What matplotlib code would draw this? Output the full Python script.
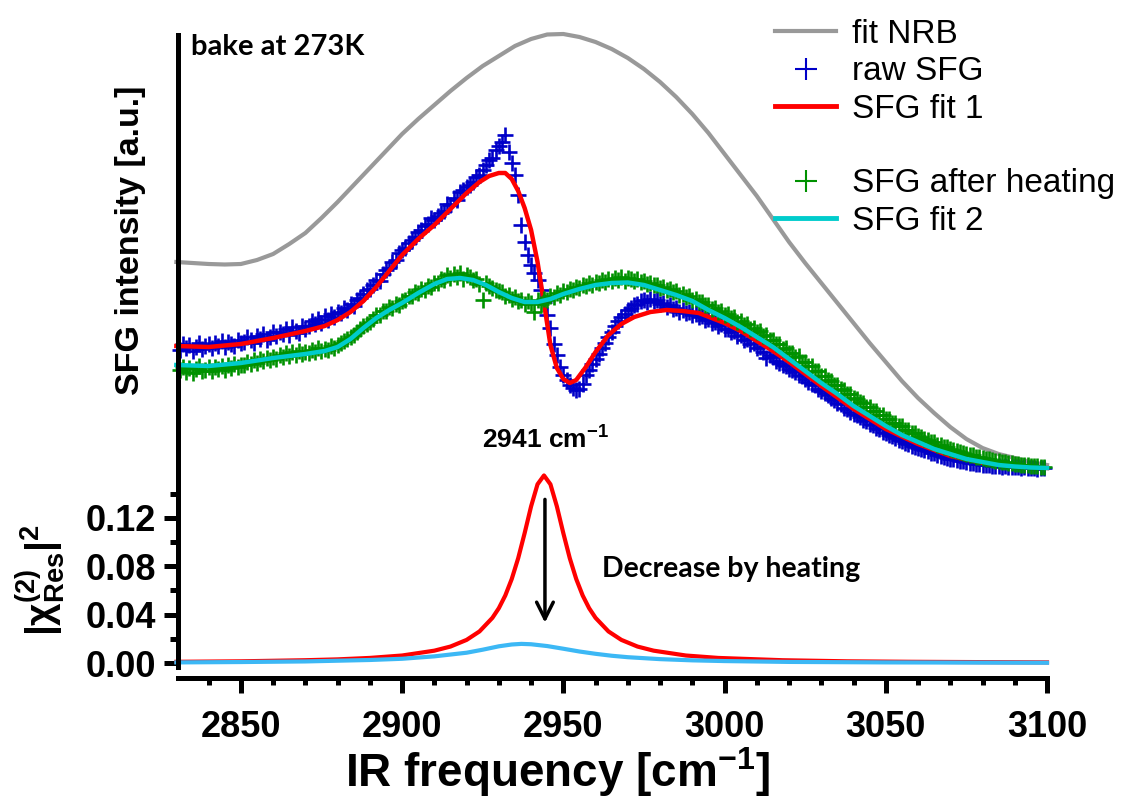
import numpy as np
import matplotlib
matplotlib.use('Agg')
import matplotlib.pyplot as plt
from matplotlib.lines import Line2D
from matplotlib.ticker import MultipleLocator

plt.rcParams['font.family'] = 'Liberation Sans'
plt.rcParams['mathtext.fontset'] = 'custom'
plt.rcParams['mathtext.rm'] = 'Liberation Sans'
plt.rcParams['mathtext.bf'] = 'Liberation Sans:bold'
plt.rcParams['mathtext.it'] = 'Liberation Sans:italic'

#%% data (intensity in a.u.)

nrb_x = [2830, 2835, 2840, 2845, 2850, 2855, 2860, 2865, 2870, 2875, 2880, 2885,
         2890, 2895, 2900, 2905, 2910, 2915, 2920, 2925, 2930, 2935, 2940, 2945,
         2950, 2955, 2960, 2965, 2970, 2975, 2980, 2985, 2990, 2995, 3000, 3005,
         3010, 3015, 3020, 3025, 3030, 3035, 3040, 3045, 3050, 3055, 3060, 3065,
         3070, 3075, 3080, 3085, 3090, 3095, 3100]
nrb_y = [2.08, 2.07, 2.06, 2.055, 2.06, 2.10, 2.16, 2.26, 2.37, 2.52, 2.68, 2.85,
         3.02, 3.19, 3.36, 3.51, 3.65, 3.79, 3.92, 4.04, 4.14, 4.24, 4.31, 4.355,
         4.36, 4.33, 4.28, 4.21, 4.12, 4.01, 3.88, 3.73, 3.56, 3.37, 3.16, 2.95,
         2.74, 2.51, 2.28, 2.07, 1.87, 1.67, 1.47, 1.27, 1.08, 0.89, 0.72, 0.57,
         0.43, 0.31, 0.22, 0.16, 0.12, 0.08, 0.05]

fit1_x = [2830, 2840, 2850, 2860, 2870, 2876, 2880, 2884, 2888, 2892, 2896, 2900,
          2905, 2910, 2915, 2920, 2924, 2927, 2930, 2932, 2934, 2936, 2938, 2940,
          2942, 2944, 2946, 2948, 2950, 2952, 2954, 2957, 2960, 2964, 2968, 2972,
          2977, 2982, 2987, 2992, 2996, 3000, 3005, 3010, 3015, 3020, 3030, 3040,
          3050, 3060, 3070, 3080, 3090, 3100]
fit1_y = [1.24, 1.23, 1.26, 1.32, 1.39, 1.44, 1.50, 1.58, 1.69, 1.83, 1.99, 2.15,
          2.31, 2.45, 2.61, 2.77, 2.88, 2.94, 2.97, 2.97, 2.91, 2.79, 2.62, 2.40,
          2.08, 1.67, 1.25, 1.02, 0.91, 0.87, 0.90, 1.03, 1.18, 1.35, 1.46, 1.53,
          1.58, 1.60, 1.59, 1.57, 1.52, 1.47, 1.39, 1.29, 1.19, 1.08, 0.84, 0.61,
          0.41, 0.26, 0.14, 0.07, 0.035, 0.02]

fit2_x = [2830, 2840, 2850, 2860, 2870, 2876, 2880, 2884, 2888, 2892, 2896, 2900,
          2905, 2910, 2914, 2918, 2922, 2926, 2930, 2934, 2938, 2942, 2946, 2950,
          2955, 2960, 2965, 2970, 2975, 2980, 2985, 2990, 2995, 3000, 3005, 3010,
          3015, 3020, 3025, 3030, 3035, 3040, 3045, 3050, 3055, 3060, 3065, 3070,
          3075, 3080, 3085, 3090, 3095, 3100]
fit2_y = [1.05, 1.04, 1.07, 1.12, 1.16, 1.19, 1.23, 1.31, 1.42, 1.52, 1.60, 1.67,
          1.77, 1.86, 1.91, 1.92, 1.90, 1.85, 1.78, 1.72, 1.68, 1.68, 1.71, 1.76,
          1.81, 1.85, 1.87, 1.875, 1.85, 1.80, 1.75, 1.69, 1.60, 1.52, 1.43, 1.33,
          1.23, 1.11, 0.99, 0.87, 0.76, 0.64, 0.54, 0.44, 0.35, 0.28, 0.21, 0.16,
          0.11, 0.08, 0.05, 0.035, 0.025, 0.02]

# raw spectra, one point per cm-1 from 2831 to 3099
raw_x = np.arange(2831, 3100)
raw_sfg = [1.20, 1.26, 1.22, 1.25, 1.19, 1.23, 1.27, 1.21, 1.24, 1.26,
           1.22, 1.27, 1.24, 1.29, 1.23, 1.28, 1.26, 1.24, 1.30, 1.27,
           1.28, 1.33, 1.30, 1.27, 1.34, 1.31, 1.36, 1.30, 1.33, 1.38,
           1.34, 1.38, 1.36, 1.41, 1.35, 1.43, 1.39, 1.37, 1.44, 1.41,
           1.44, 1.49, 1.46, 1.51, 1.47, 1.54, 1.50, 1.56, 1.53, 1.58,
           1.57, 1.62, 1.60, 1.66, 1.64, 1.70, 1.72, 1.76, 1.80, 1.81,
           1.85, 1.90, 1.89, 1.96, 2.00, 2.02, 2.08, 2.10, 2.17, 2.20,
           2.22, 2.27, 2.30, 2.33, 2.38, 2.40, 2.44, 2.46, 2.52, 2.50,
           2.54, 2.57, 2.59, 2.66, 2.65, 2.72, 2.70, 2.78, 2.80, 2.83,
           2.85, 2.88, 2.93, 2.95, 3.00, 3.05, 3.10, 3.12, 3.20, 3.24,
           3.28, 3.35, 3.18, 3.07, 2.95, 2.75, 2.45, 2.28, 2.15, 2.05,
           1.97, 1.90, 1.80, 1.68, 1.55, 1.42, 1.26, 1.15, 1.03, 0.95,
           0.90, 0.85, 0.82, 0.80, 0.81, 0.86, 0.95, 1.00, 1.06, 1.11,
           1.16, 1.22, 1.27, 1.33, 1.38, 1.44, 1.49, 1.53, 1.56, 1.60,
           1.62, 1.65, 1.66, 1.69, 1.70, 1.68, 1.71, 1.69, 1.70, 1.66,
           1.67, 1.63, 1.65, 1.61, 1.62, 1.58, 1.60, 1.57, 1.58, 1.55,
           1.56, 1.53, 1.54, 1.50, 1.51, 1.47, 1.48, 1.44, 1.46, 1.41,
           1.41, 1.38, 1.39, 1.34, 1.35, 1.30, 1.31, 1.26, 1.27, 1.22,
           1.23, 1.18, 1.12, 1.15, 1.13, 1.09, 1.07, 1.05, 1.04, 1.01,
           1.00, 0.98, 0.95, 0.94, 0.91, 0.88, 0.86, 0.85, 0.81, 0.79,
           0.77, 0.75, 0.72, 0.70, 0.67, 0.66, 0.62, 0.61, 0.58, 0.56,
           0.55, 0.53, 0.50, 0.49, 0.46, 0.45, 0.42, 0.41, 0.38, 0.37,
           0.35, 0.34, 0.32, 0.30, 0.29, 0.27, 0.26, 0.24, 0.23, 0.22,
           0.21, 0.20, 0.19, 0.17, 0.17, 0.15, 0.14, 0.13, 0.12, 0.11,
           0.11, 0.10, 0.09, 0.09, 0.08, 0.07, 0.07, 0.06, 0.06, 0.05,
           0.05, 0.05, 0.04, 0.04, 0.04, 0.03, 0.04, 0.03, 0.03, 0.03,
           0.03, 0.02, 0.03, 0.02, 0.02, 0.02, 0.01, 0.02, 0.02]
raw_heated = [1.00, 1.03, 0.98, 1.02, 0.97, 1.01, 1.04, 0.99, 1.00, 1.03,
              0.99, 1.03, 1.01, 1.04, 1.00, 1.05, 1.02, 1.06, 1.03, 1.05,
              1.05, 1.08, 1.06, 1.10, 1.07, 1.11, 1.09, 1.12, 1.10, 1.13,
              1.11, 1.15, 1.13, 1.17, 1.14, 1.18, 1.15, 1.19, 1.16, 1.18,
              1.17, 1.20, 1.18, 1.22, 1.19, 1.21, 1.20, 1.24, 1.22, 1.25,
              1.27, 1.29, 1.31, 1.33, 1.35, 1.38, 1.41, 1.44, 1.46, 1.48,
              1.51, 1.55, 1.55, 1.59, 1.59, 1.63, 1.62, 1.66, 1.65, 1.69,
              1.70, 1.74, 1.74, 1.78, 1.77, 1.81, 1.80, 1.84, 1.83, 1.87,
              1.87, 1.91, 1.90, 1.95, 1.92, 1.96, 1.93, 1.97, 1.91, 1.95,
              1.93, 1.90, 1.91, 1.86, 1.70, 1.87, 1.84, 1.82, 1.80, 1.79,
              1.78, 1.74, 1.75, 1.71, 1.73, 1.69, 1.70, 1.66, 1.69, 1.67,
              1.58, 1.70, 1.66, 1.71, 1.70, 1.74, 1.73, 1.77, 1.75, 1.79,
              1.78, 1.81, 1.80, 1.83, 1.82, 1.85, 1.84, 1.87, 1.85, 1.88,
              1.87, 1.90, 1.88, 1.91, 1.89, 1.92, 1.90, 1.93, 1.89, 1.92,
              1.91, 1.89, 1.91, 1.88, 1.89, 1.86, 1.87, 1.85, 1.85, 1.82,
              1.83, 1.80, 1.81, 1.78, 1.79, 1.75, 1.76, 1.73, 1.74, 1.70,
              1.71, 1.68, 1.68, 1.65, 1.65, 1.61, 1.62, 1.58, 1.59, 1.55,
              1.56, 1.52, 1.53, 1.48, 1.49, 1.45, 1.46, 1.41, 1.42, 1.38,
              1.39, 1.34, 1.35, 1.30, 1.30, 1.26, 1.26, 1.21, 1.22, 1.17,
              1.17, 1.13, 1.14, 1.08, 1.08, 1.04, 1.04, 0.99, 0.99, 0.94,
              0.94, 0.90, 0.89, 0.85, 0.85, 0.81, 0.80, 0.76, 0.76, 0.72,
              0.71, 0.68, 0.67, 0.63, 0.63, 0.59, 0.59, 0.55, 0.55, 0.51,
              0.51, 0.47, 0.47, 0.44, 0.44, 0.40, 0.40, 0.37, 0.37, 0.34,
              0.33, 0.31, 0.30, 0.28, 0.28, 0.25, 0.25, 0.23, 0.23, 0.21,
              0.20, 0.19, 0.18, 0.17, 0.16, 0.15, 0.15, 0.13, 0.13, 0.12,
              0.11, 0.11, 0.10, 0.09, 0.09, 0.08, 0.08, 0.07, 0.07, 0.06,
              0.06, 0.05, 0.05, 0.05, 0.04, 0.04, 0.04, 0.03, 0.03]

# |chi(2)_Res|^2 before / after heating
chi_x = [2830, 2850, 2870, 2880, 2890, 2900, 2910, 2915, 2920, 2924, 2928, 2930,
         2932, 2934, 2936, 2938, 2940, 2942, 2944, 2946, 2948, 2950, 2952, 2954,
         2956, 2958, 2960, 2964, 2968, 2973, 2978, 2988, 2998, 3018, 3038, 3058,
         3100]
chi_before = [0.0010, 0.0014, 0.0023, 0.0030, 0.0042, 0.0062, 0.0102, 0.0136, 0.0191,
              0.0261, 0.0373, 0.0453, 0.0558, 0.0694, 0.0866, 0.1073, 0.1294, 0.1477,
              0.1550, 0.1477, 0.1294, 0.1073, 0.0866, 0.0694, 0.0558, 0.0453, 0.0373,
              0.0261, 0.0191, 0.0136, 0.0102, 0.0062, 0.0042, 0.0023, 0.0014, 0.0010,
              0.0005]
chi_after_x = [2830, 2850, 2870, 2890, 2900, 2910, 2920, 2925, 2930, 2934, 2937, 2940,
               2945, 2950, 2955, 2960, 2965, 2970, 2980, 2990, 3000, 3020, 3050, 3100]
chi_after = [0.0005, 0.0008, 0.0013, 0.0025, 0.0035, 0.0055, 0.0085, 0.0110, 0.0138,
             0.0153, 0.0158, 0.0155, 0.0140, 0.0118, 0.0095, 0.0076, 0.0060, 0.0048,
             0.0032, 0.0022, 0.0016, 0.0009, 0.0005, 0.0002]

#%% figure

W, H = 1123, 799
fig = plt.figure(figsize=(W/100, H/100), dpi=100)

ax1 = fig.add_axes([178/W, 1-470/H, 869/W, 435/H])
ax2 = fig.add_axes([178/W, 1-667/H, 869/W, 197/H])
for a in (ax1, ax2):
    a.set_xlim(2830.5, 3100)
    a.patch.set_alpha(0)
    for s in ['top', 'right']:
        a.spines[s].set_visible(False)
    a.spines['left'].set_linewidth(3.6)

ax1.set_ylim(0, 4.35)
ax1.spines['bottom'].set_visible(False)
ax1.set_xticks([])
ax1.set_yticks([])

ax1.plot(nrb_x, nrb_y, color='#999999', lw=3, clip_on=False)
ax1.plot(raw_x, raw_sfg, '+', color='#0000c8', ms=12, mew=1.9, clip_on=False)
ax1.plot(fit1_x, fit1_y, color='#ff0000', lw=3.2, clip_on=False)
ax1.plot(raw_x, raw_heated, '+', color='#009100', ms=12, mew=1.9, clip_on=False)
ax1.plot(fit2_x, fit2_y, color='#00cccc', lw=3.2, clip_on=False)

ax2.set_ylim(-0.0033, 0.1595)
ax2.plot(chi_x, chi_before, color='#ff0000', lw=3, clip_on=False)
ax2.plot(chi_after_x, chi_after, color='#3cb8f5', lw=3, clip_on=False)
ax2.spines['bottom'].set_position(('outward', 8))
ax2.spines['bottom'].set_linewidth(3.6)
ax2.xaxis.set_major_locator(MultipleLocator(50))
ax2.xaxis.set_minor_locator(MultipleLocator(10))
ax2.yaxis.set_major_locator(MultipleLocator(0.04))
ax2.yaxis.set_minor_locator(MultipleLocator(0.02))
ax2.set_yticks([0, 0.04, 0.08, 0.12])
ax2.set_yticklabels(['0.00', '0.04', '0.08', '0.12'])
ax2.tick_params(axis='x', which='major', length=11, width=3.6, pad=12)
ax2.tick_params(axis='x', which='minor', length=5, width=3.6)
ax2.tick_params(axis='y', which='major', length=10, width=3.6, pad=6)
ax2.tick_params(axis='y', which='minor', length=6, width=3.6)
for lab in ax2.get_xticklabels() + ax2.get_yticklabels():
    lab.set_fontsize(26)
    lab.set_fontweight('bold')

ax2.annotate('', xy=(2944.3, 0.031), xytext=(2944.3, 0.1375),
             arrowprops=dict(arrowstyle='->', lw=2.5, color='black',
                             mutation_scale=30))
ax2.text(2962, 0.0775, 'Decrease by heating', fontsize=20.5, fontweight='bold',
         family='Lato', va='center', ha='left')

fig.text(545/W, 1-440/H, r'2941 cm$^{\mathbf{-1}}$', fontsize=19,
         fontweight='bold', ha='center', va='center')
fig.text(191/W, 1-47/H, 'bake at 273K', fontsize=21, fontweight='bold',
         family='Lato', ha='left', va='center')

fig.text(130/W, 1-240/H, 'SFG intensity [a.u.]', fontsize=24.5,
         fontweight='bold', rotation=90, ha='center', va='center')
fig.text(40/W, 1-580/H, r'$\mathbf{|\chi^{(2)}_{Res}|^2}$', fontsize=28,
         rotation=90, ha='center', va='center')
fig.text(558/W, 1-787/H, r'IR frequency [cm$^{\mathbf{-1}}$]', fontsize=33,
         fontweight='bold', ha='center', va='baseline')

handles = [Line2D([], [], color='#999999', lw=3),
           Line2D([], [], ls='none', marker='+', color='#0000c8', ms=16, mew=1.5),
           Line2D([], [], color='#ff0000', lw=3.5),
           Line2D([], [], ls='none'),
           Line2D([], [], ls='none', marker='+', color='#009100', ms=16, mew=1.5),
           Line2D([], [], color='#00cccc', lw=3.5)]
labels = ['fit NRB', 'raw SFG', 'SFG fit 1', ' ', 'SFG after heating', 'SFG fit 2']
fig.legend(handles, labels, loc='upper left', bbox_to_anchor=(775/W, 1-19/H),
           frameon=False, fontsize=24, handlelength=1.84, handletextpad=0.47,
           labelspacing=0.19, borderpad=0, borderaxespad=0)

plt.savefig('out.png', dpi=100)
